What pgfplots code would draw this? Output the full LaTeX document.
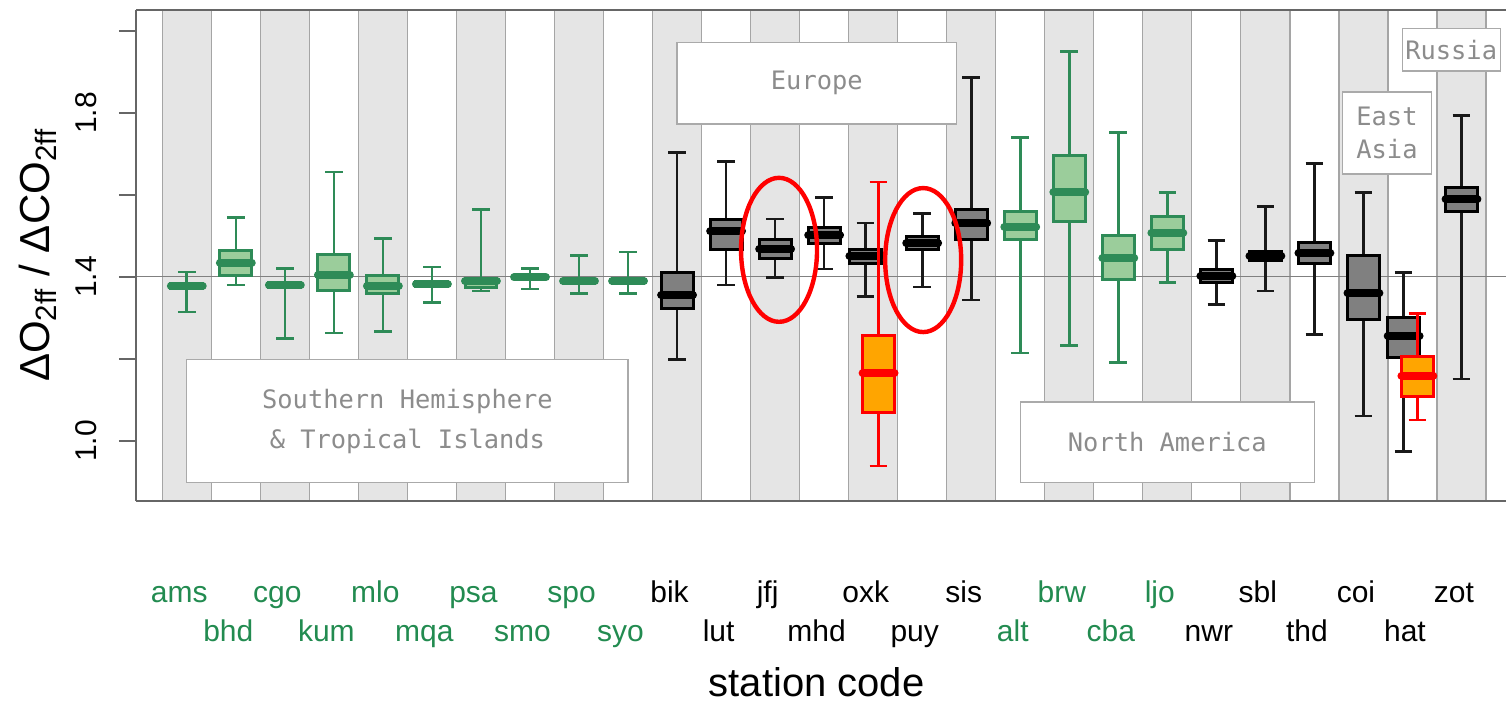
\documentclass[border=0pt]{standalone}
\usepackage{fontspec}
\setmainfont{Liberation Sans}
\newfontfamily\regfont{DejaVu Sans Mono}
\usepackage{pgfplots}
\pgfplotsset{compat=1.18}
\usepgfplotslibrary{statistics}
\definecolor{grn}{RGB}{46,139,87}
\definecolor{lgrn}{RGB}{155,205,155}
\definecolor{lblgrn}{RGB}{34,139,80}
\definecolor{bxgray}{RGB}{128,128,128}
\definecolor{stripe}{RGB}{229,229,229}
\definecolor{stripeline}{RGB}{165,165,165}
\definecolor{orng}{RGB}{255,165,0}
\definecolor{regtext}{RGB}{140,140,140}
\definecolor{regline}{RGB}{170,170,170}
\pgfplotsset{
  gbox/.style={draw=grn, line width=1.3pt,
    boxplot/every box/.style={fill=lgrn, draw=grn, line width=1.5pt},
    boxplot/every median/.style={draw=grn, line width=4pt, line cap=round},
    boxplot/every whisker/.style={draw=grn, line width=1.3pt}},
  kbox/.style={draw=black, line width=1.3pt,
    boxplot/every box/.style={fill=bxgray, draw=black, line width=1.5pt},
    boxplot/every median/.style={draw=black, line width=4pt, line cap=round},
    boxplot/every whisker/.style={draw=black!90, line width=1.3pt}},
  rbox/.style={draw=red, line width=1.3pt,
    boxplot/every box/.style={fill=orng, draw=red, line width=1.5pt},
    boxplot/every median/.style={draw=red, line width=4pt, line cap=round},
    boxplot/every whisker/.style={draw=red, line width=1.3pt}},
}
\begin{document}
\begin{tikzpicture}
\begin{axis}[name=ax, scale only axis, width=685pt, height=245.35pt,
  xmin=-1.036, xmax=26.908, ymin=0.854, ymax=2.051,
  boxplot/draw direction=y,
  axis x line*=box, axis y line*=left,
  axis line style={draw=black!60, line width=0.9pt},
  axis on top,
  ytick={1,1.2,1.4,1.6,1.8,2}, yticklabels={1.0,,1.4,,1.8,},
  tick align=outside, major tick length=8.5pt,
  ytick style={draw=black!60, line width=0.9pt},
  yticklabel style={font=\fontsize{15}{18}\selectfont, rotate=90, anchor=south, inner sep=0pt},
  yticklabel shift=11pt,
  xtick={0,2,...,26},
  xticklabels={\textcolor{lblgrn}{ams},\textcolor{lblgrn}{cgo},\textcolor{lblgrn}{mlo},\textcolor{lblgrn}{psa},\textcolor{lblgrn}{spo},bik,jfj,oxk,sis,\textcolor{lblgrn}{brw},\textcolor{lblgrn}{ljo},sbl,coi,zot},
  xtick style={draw=none},
  xticklabel style={font=\fontsize{15}{18}\selectfont, anchor=base, yshift=-42.5pt, xshift=-3.75pt, inner sep=0pt},
  extra x ticks={1,3,...,25},
  extra x tick labels={\textcolor{lblgrn}{bhd},\textcolor{lblgrn}{kum},\textcolor{lblgrn}{mqa},\textcolor{lblgrn}{smo},\textcolor{lblgrn}{syo},lut,mhd,puy,\textcolor{lblgrn}{alt},\textcolor{lblgrn}{cba},nwr,thd,hat},
  extra x tick style={xtick style={draw=none}, xticklabel style={yshift=-19.2pt}},
  xlabel={station code},
  xlabel style={font=\fontsize{20}{24}\selectfont, at={(axis description cs:0.4967,-0.4)}, anchor=base},
  ylabel={ΔO\textsubscript{2ff} / ΔCO\textsubscript{2ff}},
  ylabel style={font=\fontsize{21}{25}\selectfont, at={(axis description cs:-0.0628,0.5)}, anchor=base},
]
% background stripes
\pgfplotsinvokeforeach{0,2,...,26}{\fill[stripe] (axis cs:#1-0.5,0.8) rectangle (axis cs:#1+0.5,2.2);}
\pgfplotsinvokeforeach{0,...,27}{\draw[stripeline, line width=0.6pt] (axis cs:#1-0.5,0.8) -- (axis cs:#1-0.5,2.2);}
% region boxes
\draw[regline, fill=white, line width=0.6pt] (axis cs:0,0.898) rectangle (axis cs:9,1.199);
\node[font=\regfont\fontsize{12.7}{20}\selectfont, text=regtext, align=center] at (axis cs:4.5,1.047) {Southern Hemisphere\\\& Tropical Islands};
\draw[regline, fill=white, line width=0.6pt] (axis cs:10,1.773) rectangle (axis cs:15.7,1.972);
\node[font=\regfont\fontsize{12.7}{20}\selectfont, text=regtext] at (axis cs:12.85,1.872) {Europe};
\draw[regline, fill=white, line width=0.6pt] (axis cs:17,0.898) rectangle (axis cs:23,1.095);
\node[font=\regfont\fontsize{12.7}{20}\selectfont, text=regtext] at (axis cs:20,0.997) {North America};
\draw[regline, fill=white, line width=0.6pt] (axis cs:23.58,1.651) rectangle (axis cs:25.38,1.851);
\node[font=\regfont\fontsize{12.7}{16.5}\selectfont, text=regtext, align=center] at (axis cs:24.48,1.750) {East\\Asia};
\draw[regline, fill=white, line width=0.6pt] (axis cs:24.79,1.902) rectangle (axis cs:26.79,2.005);
\node[font=\regfont\fontsize{12.7}{20}\selectfont, text=regtext] at (axis cs:25.79,1.953) {Russia};
% reference line
\draw[black!50, line width=0.6pt] (axis cs:-2,1.4) -- (axis cs:28,1.4);
% boxplots
\addplot[gbox, boxplot prepared={draw position=0, lower whisker=1.314, lower quartile=1.372, median=1.378, upper quartile=1.384, upper whisker=1.412, box extend=0.65, whisker extend=0.36}] coordinates {};
\addplot[gbox, boxplot prepared={draw position=1, lower whisker=1.380, lower quartile=1.403, median=1.435, upper quartile=1.464, upper whisker=1.545, box extend=0.65, whisker extend=0.36}] coordinates {};
\addplot[gbox, boxplot prepared={draw position=2, lower whisker=1.250, lower quartile=1.373, median=1.380, upper quartile=1.386, upper whisker=1.421, box extend=0.65, whisker extend=0.36}] coordinates {};
\addplot[gbox, boxplot prepared={draw position=3, lower whisker=1.263, lower quartile=1.366, median=1.405, upper quartile=1.455, upper whisker=1.656, box extend=0.65, whisker extend=0.36}] coordinates {};
\addplot[gbox, boxplot prepared={draw position=4, lower whisker=1.267, lower quartile=1.360, median=1.378, upper quartile=1.403, upper whisker=1.493, box extend=0.65, whisker extend=0.36}] coordinates {};
\addplot[gbox, boxplot prepared={draw position=5, lower whisker=1.338, lower quartile=1.376, median=1.382, upper quartile=1.388, upper whisker=1.424, box extend=0.65, whisker extend=0.36}] coordinates {};
\addplot[gbox, boxplot prepared={draw position=6, lower whisker=1.366, lower quartile=1.374, median=1.390, upper quartile=1.397, upper whisker=1.565, box extend=0.65, whisker extend=0.36}] coordinates {};
\addplot[gbox, boxplot prepared={draw position=7, lower whisker=1.370, lower quartile=1.395, median=1.399, upper quartile=1.403, upper whisker=1.420, box extend=0.65, whisker extend=0.36}] coordinates {};
\addplot[gbox, boxplot prepared={draw position=8, lower whisker=1.360, lower quartile=1.384, median=1.390, upper quartile=1.394, upper whisker=1.452, box extend=0.65, whisker extend=0.36}] coordinates {};
\addplot[gbox, boxplot prepared={draw position=9, lower whisker=1.360, lower quartile=1.385, median=1.390, upper quartile=1.395, upper whisker=1.461, box extend=0.65, whisker extend=0.36}] coordinates {};
\addplot[kbox, boxplot prepared={draw position=10, lower whisker=1.198, lower quartile=1.324, median=1.356, upper quartile=1.411, upper whisker=1.703, box extend=0.65, whisker extend=0.36}] coordinates {};
\addplot[kbox, boxplot prepared={draw position=11, lower whisker=1.380, lower quartile=1.466, median=1.511, upper quartile=1.539, upper whisker=1.681, box extend=0.65, whisker extend=0.36}] coordinates {};
\addplot[kbox, boxplot prepared={draw position=12, lower whisker=1.398, lower quartile=1.446, median=1.468, upper quartile=1.490, upper whisker=1.541, box extend=0.65, whisker extend=0.36}] coordinates {};
\addplot[kbox, boxplot prepared={draw position=13, lower whisker=1.419, lower quartile=1.482, median=1.501, upper quartile=1.521, upper whisker=1.594, box extend=0.65, whisker extend=0.36}] coordinates {};
\addplot[kbox, boxplot prepared={draw position=13.84, lower whisker=1.352, lower quartile=1.433, median=1.451, upper quartile=1.468, upper whisker=1.531, box extend=0.65, whisker extend=0.36}] coordinates {};
\addplot[rbox, boxplot prepared={draw position=14.11, lower whisker=0.939, lower quartile=1.069, median=1.165, upper quartile=1.256, upper whisker=1.631, box extend=0.65, whisker extend=0.36}] coordinates {};
\addplot[kbox, boxplot prepared={draw position=15, lower whisker=1.375, lower quartile=1.466, median=1.482, upper quartile=1.499, upper whisker=1.554, box extend=0.65, whisker extend=0.36}] coordinates {};
\addplot[kbox, boxplot prepared={draw position=16, lower whisker=1.344, lower quartile=1.492, median=1.531, upper quartile=1.565, upper whisker=1.887, box extend=0.65, whisker extend=0.36}] coordinates {};
\addplot[gbox, boxplot prepared={draw position=17, lower whisker=1.214, lower quartile=1.492, median=1.522, upper quartile=1.560, upper whisker=1.740, box extend=0.65, whisker extend=0.36}] coordinates {};
\addplot[gbox, boxplot prepared={draw position=18, lower whisker=1.233, lower quartile=1.535, median=1.606, upper quartile=1.696, upper whisker=1.950, box extend=0.65, whisker extend=0.36}] coordinates {};
\addplot[gbox, boxplot prepared={draw position=19, lower whisker=1.191, lower quartile=1.393, median=1.446, upper quartile=1.501, upper whisker=1.752, box extend=0.65, whisker extend=0.36}] coordinates {};
\addplot[gbox, boxplot prepared={draw position=20, lower whisker=1.386, lower quartile=1.466, median=1.508, upper quartile=1.547, upper whisker=1.606, box extend=0.65, whisker extend=0.36}] coordinates {};
\addplot[kbox, boxplot prepared={draw position=21, lower whisker=1.333, lower quartile=1.386, median=1.402, upper quartile=1.417, upper whisker=1.489, box extend=0.65, whisker extend=0.36}] coordinates {};
\addplot[kbox, boxplot prepared={draw position=22, lower whisker=1.366, lower quartile=1.440, median=1.451, upper quartile=1.462, upper whisker=1.571, box extend=0.65, whisker extend=0.36}] coordinates {};
\addplot[kbox, boxplot prepared={draw position=23, lower whisker=1.259, lower quartile=1.432, median=1.458, upper quartile=1.484, upper whisker=1.677, box extend=0.65, whisker extend=0.36}] coordinates {};
\addplot[kbox, boxplot prepared={draw position=24, lower whisker=1.061, lower quartile=1.295, median=1.360, upper quartile=1.451, upper whisker=1.606, box extend=0.65, whisker extend=0.36}] coordinates {};
\addplot[kbox, boxplot prepared={draw position=24.82, lower whisker=0.974, lower quartile=1.203, median=1.256, upper quartile=1.302, upper whisker=1.411, box extend=0.65, whisker extend=0.36}] coordinates {};
\addplot[rbox, boxplot prepared={draw position=25.1, lower whisker=1.051, lower quartile=1.108, median=1.159, upper quartile=1.206, upper whisker=1.310, box extend=0.65, whisker extend=0.36}] coordinates {};
\addplot[kbox, boxplot prepared={draw position=26, lower whisker=1.151, lower quartile=1.560, median=1.589, upper quartile=1.618, upper whisker=1.793, box extend=0.65, whisker extend=0.36}] coordinates {};
% highlight ellipses
\draw[red, line width=2.2pt] (axis cs:12.08,1.466) ellipse [x radius=19pt, y radius=36pt];
\draw[red, line width=2.2pt] (axis cs:15.02,1.441) ellipse [x radius=19pt, y radius=36pt];
\end{axis}
\pgfresetboundingbox
\useasboundingbox ([xshift=-68pt,yshift=-101.15pt]ax.south west) rectangle ([yshift=5pt]ax.north east);
\end{tikzpicture}
\end{document}
